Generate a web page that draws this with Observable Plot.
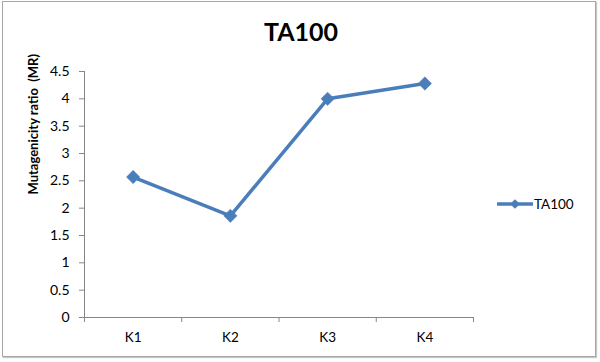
<!DOCTYPE html>
<html>
<head>
<meta charset="utf-8">
<script src="https://cdn.jsdelivr.net/npm/d3@7"></script>
<script src="https://cdn.jsdelivr.net/npm/@observablehq/plot@0.6"></script>
<style>
  html, body { margin: 0; padding: 0; background: #fff; }
  #wrap { position: relative; width: 600px; height: 362px; font-family: Lato, "Open Sans", sans-serif; }
  #border { position: absolute; left: 2px; top: 1px; width: 594px; height: 356px; border: 1px solid #a6a6a6; box-shadow: 1px 1px 1px #c8c8c8; box-sizing: border-box; pointer-events: none; }
  #title { position: absolute; left: 0; width: 600px; top: 16px; text-align: center; font-weight: bold; font-size: 25px; color: #000; padding-left: 2px; box-sizing: border-box; }
  #legend { position: absolute; left: 497px; top: 196px; display: flex; align-items: center; font-size: 13.5px; color: #000; }
  #plot { position: absolute; left: 0; top: 0; }
</style>
</head>
<body>
<div id="wrap">
  <div id="plot"></div>
  <div id="title"></div>
  <div id="legend"></div>
  <div id="border"></div>
</div>
<script>
const categories = ["K1", "K2", "K3", "K4"];
const values = [2.57, 1.86, 4.0, 4.28];
const seriesName = "TA100";
const yTicks = [0, 0.5, 1, 1.5, 2, 2.5, 3, 3.5, 4, 4.5];
const titleText = "TA100";
const yLabel = "Mutagenicity ratio  (MR)";

const color = "#4a7ebb";
const axisColor = "#868686";

const data = categories.map((c, i) => ({ cat: c, idx: i + 0.5, value: values[i] }));
const catCenters = categories.map((c, i) => i + 0.5);
const catEdges = d3.range(categories.length + 1);

const chart = Plot.plot({
  width: 600,
  height: 362,
  marginLeft: 84,
  marginRight: 127,
  marginTop: 71,
  marginBottom: 45,
  style: { fontFamily: "Lato, 'Open Sans', sans-serif", fontSize: "13px", color: "#000", background: "transparent" },
  x: { domain: [0, categories.length], axis: null, label: null },
  y: { domain: [0, 4.5], axis: null, label: null },
  marks: [
    Plot.ruleX([0], { stroke: axisColor, strokeWidth: 1 }),
    Plot.ruleY([0], { stroke: axisColor, strokeWidth: 1 }),
    Plot.axisY({ ticks: yTicks, label: null, tickSize: 5, tickPadding: 10, stroke: axisColor, tickFormat: d => String(d), fill: "#000", fontSize: 14 }),
    Plot.axisX({ ticks: catEdges, label: null, tickSize: 5, tickFormat: () => "", stroke: axisColor }),
    Plot.axisX({ ticks: catCenters, label: null, tickSize: 0, tickPadding: 15, tickFormat: (d) => categories[Math.floor(d)], fill: "#000", fontSize: 13.5 }),
    Plot.text([yLabel], { frameAnchor: "left", dx: -51, rotate: -90, fontWeight: "bold", fontSize: 13, fill: "#000" }),
    Plot.line(data, { x: "idx", y: "value", stroke: color, strokeWidth: 3.5 }),
    Plot.dot(data, { x: "idx", y: "value", symbol: "diamond2", r: 6, fill: color, stroke: color, strokeWidth: 0.5 })
  ]
});
document.getElementById("plot").appendChild(chart);
document.getElementById("title").textContent = titleText;

const leg = document.getElementById("legend");
const ns = "http://www.w3.org/2000/svg";
const sw = document.createElementNS(ns, "svg");
sw.setAttribute("width", 36); sw.setAttribute("height", 16);
sw.innerHTML = `<line x1="0" y1="8" x2="36" y2="8" stroke="${color}" stroke-width="3.5"/>` +
  `<path d="${d3.symbol(d3.symbolDiamond2, 60)()}" transform="translate(18,8)" fill="${color}"/>`;
leg.appendChild(sw);
const lt = document.createElement("span");
lt.textContent = seriesName;
lt.style.marginLeft = "1px";
leg.appendChild(lt);
</script>
</body>
</html>
